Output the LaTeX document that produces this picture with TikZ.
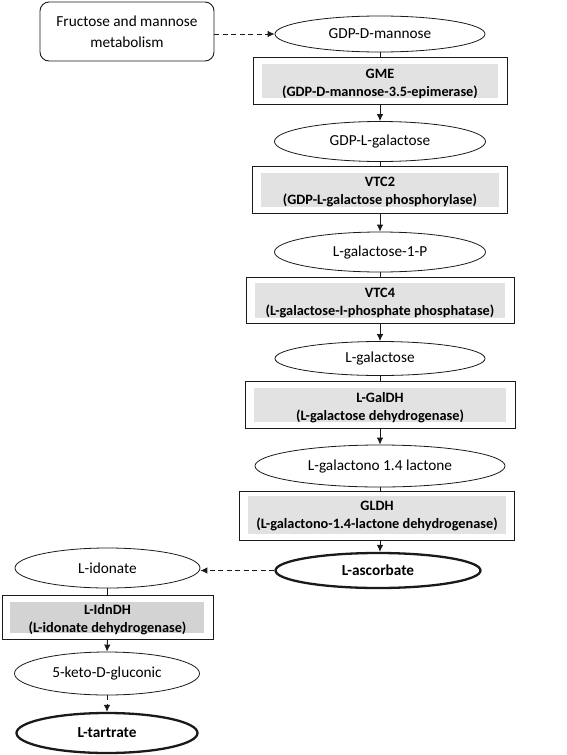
\documentclass[tikz,border=0pt]{standalone}
\usepackage{fontspec}
\setmainfont{Carlito}
\usetikzlibrary{calc,arrows.meta,shapes.geometric}
\definecolor{grayfill}{HTML}{E2E2E2}
\definecolor{grayfilldark}{HTML}{D3D3D3}
\definecolor{linecol}{HTML}{1A1A1A}
\tikzset{
  metab/.style={ellipse, draw=linecol, line width=0.8pt, inner sep=0pt, font=\fontsize{15.3}{18}\selectfont},
  metabbold/.style={metab, line width=2.3pt, font=\fontsize{15.3}{18}\selectfont\bfseries},
  enzbox/.style={rectangle, draw=linecol, line width=0.9pt, inner sep=0pt},
  enztext/.style={align=center, inner sep=0pt, font=\fontsize{14.3}{18}\selectfont\bfseries},
  srcbox/.style={rectangle, rounded corners=9pt, draw=linecol, line width=0.9pt, align=center, font=\fontsize{15.3}{21.5}\selectfont},
  conn/.style={line width=0.9pt, draw=linecol},
  arr/.style={conn, -{Latex[length=7pt,width=6.5pt]}},
  darr/.style={arr, dash pattern=on 5pt off 3.5pt},
}
\begin{document}
\begin{tikzpicture}[x=1pt,y=-1pt]
\useasboundingbox (0,0) rectangle (567,755);

% source box
\node[srcbox, minimum width=174pt, minimum height=59pt] (fruc) at (127,31.5) {Fructose and mannose\\metabolism};

% main column metabolites
\node[metab, minimum width=210pt, minimum height=36pt] (gdpdm) at (380,34) {GDP-D-mannose};
\node[metab, minimum width=211pt, minimum height=40pt] (gdplg) at (380,141.5) {GDP-L-galactose};
\node[metab, minimum width=211pt, minimum height=40pt] (lg1p) at (380,252) {L-galactose-1-P};
\node[metab, minimum width=210pt, minimum height=34pt] (lgal) at (380,358.5) {L-galactose};
\node[metab, minimum width=250pt, minimum height=42pt] (lgl) at (380,466) {L-galactono 1.4 lactone};
\node[metabbold, minimum width=205pt, minimum height=35pt] (lasc) at (378,570.5) {L-ascorbate};

% left column
\node[metab, minimum width=185pt, minimum height=40pt] (lido) at (107.5,568) {L-idonate};
\node[metab, minimum width=185pt, minimum height=43pt] (keto) at (107,673.5) {5-keto-D-gluconic};
\node[metabbold, minimum width=181pt, minimum height=40pt] (ltar) at (107,733) {L-tartrate};

% enzyme boxes
\node[enzbox, minimum width=254pt, minimum height=47pt] (gme) at (380,80.5) {};
\fill[grayfill] ($(gme.north west)+(9,7)$) rectangle ($(gme.south east)+(-9,-6)$);
\node[enztext] (gmet) at ($(gme.center)+(0,3)$) {GME\\(GDP-D-mannose-3.5-epimerase)};

\node[enzbox, minimum width=255pt, minimum height=47pt] (vtc2) at (380,189.5) {};
\fill[grayfill] ($(vtc2.north west)+(9,7)$) rectangle ($(vtc2.south east)+(-9,-6)$);
\node[enztext] (vtc2t) at ($(vtc2.center)+(0,3)$) {VTC2\\(GDP-L-galactose phosphorylase)};

\node[enzbox, minimum width=268pt, minimum height=46pt] (vtc4) at (380,300) {};
\fill[grayfill] ($(vtc4.north west)+(9,6)$) rectangle ($(vtc4.south east)+(-9,-5)$);
\node[enztext] (vtc4t) at ($(vtc4.center)+(0,3)$) {VTC4\\(L-galactose-I-phosphate phosphatase)};

\node[enzbox, minimum width=270pt, minimum height=47pt] (galdh) at (380,404.5) {};
\fill[grayfill] ($(galdh.north west)+(9,7)$) rectangle ($(galdh.south east)+(-9,-6)$);
\node[enztext] (galdht) at ($(galdh.center)+(0,3)$) {L-GalDH\\(L-galactose dehydrogenase)};

\node[enzbox, minimum width=275pt, minimum height=49pt] (gldh) at (377,515.5) {};
\fill[grayfill] ($(gldh.north west)+(9,5)$) rectangle ($(gldh.south east)+(-9,-6)$);
\node[enztext] (gldht) at ($(gldh.center)+(0,1)$) {GLDH\\(L-galactono-1.4-lactone dehydrogenase)};

\node[enzbox, minimum width=211pt, minimum height=44pt] (idn) at (107.5,617) {};
\fill[grayfilldark] ($(idn.north west)+(8,7)$) rectangle ($(idn.south east)+(-9,-6)$);
\node[enztext] (idnt) at ($(idn.center)+(0,3)$) {L-IdnDH\\(L-idonate dehydrogenase)};

% connectors
\draw[darr] (fruc.east |- gdpdm.west) -- (gdpdm.west);
\draw[conn] (gdpdm.south) -- (gdpdm.south |- gme.north);
\draw[arr] (gdpdm.south |- gme.south) -- (gdplg.north);
\draw[conn] (gdplg.south) -- (gdplg.south |- vtc2.north);
\draw[arr] (gdplg.south |- vtc2.south) -- (lg1p.north);
\draw[conn] (lg1p.south) -- (lg1p.south |- vtc4.north);
\draw[arr] (lg1p.south |- vtc4.south) -- (lgal.north);
\draw[conn] (lgal.south) -- (lgal.south |- galdh.north);
\draw[arr] (lgal.south |- galdh.south) -- (lgl.north);
\draw[conn] (lgl.south) -- (lgl.south |- gldh.north);
\draw[arr] (lgl.south |- gldh.south) -- (lgl.south |- lasc.north);
\draw[darr] (lasc.west) -- (lido.east |- lasc.west);
\draw[conn] (lido.south) -- (lido.south |- idn.north);
\draw[arr] (lido.south |- idn.south) -- (keto.north);
\draw[darr] (keto.south) -- (ltar.north);
\end{tikzpicture}
\end{document}
